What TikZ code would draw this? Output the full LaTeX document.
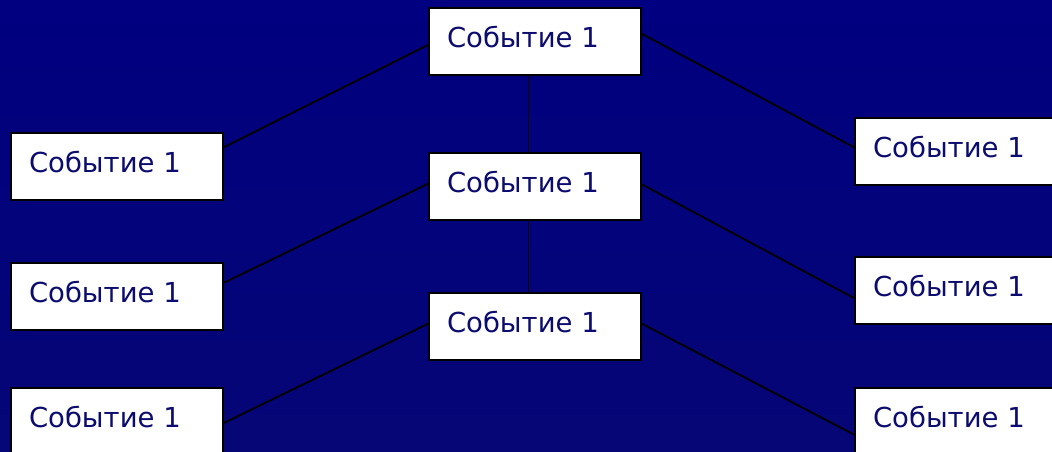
\documentclass[tikz,border=0pt]{standalone}
\usepackage{fontspec}
\setmainfont{DejaVu Sans}
\usetikzlibrary{calc}
\definecolor{bgtop}{RGB}{0,0,128}
\definecolor{bgbot}{RGB}{6,6,118}
\definecolor{txt}{RGB}{12,12,110}
\tikzset{
  evbox/.style={rectangle, draw=black, line width=2pt, fill=white,
    minimum width=212pt, minimum height=67pt, inner xsep=18pt, inner ysep=0pt,
    text depth=10pt, anchor=north west, text=txt,
    font=\fontsize{27.5pt}{30pt}\selectfont},
  conn/.style={draw=black, line width=1.8pt}
}
\newcommand{\evtext}{\makebox[176pt][l]{Событие 1}}
\begin{document}
\begin{tikzpicture}[x=1pt,y=-1pt]
\useasboundingbox (0,0) rectangle (1052,452);
\clip (0,0) rectangle (1052,452);
\shade[top color=bgtop, bottom color=bgbot] (0,0) rectangle (1052,452);
% center column
\node[evbox] (T1) at (428,7) {\evtext};
\node[evbox] (T2) at (428,152) {\evtext};
\node[evbox] (T3) at (428,292) {\evtext};
% left column
\node[evbox] (L1) at (10,132) {\evtext};
\node[evbox] (L2) at (10,262) {\evtext};
\node[evbox] (L3) at (10,387) {\evtext};
% right column
\node[evbox, minimum width=230pt] (R1) at (854,117) {\makebox[194pt][l]{Событие 1}};
\node[evbox, minimum width=230pt] (R2) at (854,256) {\makebox[194pt][l]{Событие 1}};
\node[evbox, minimum width=230pt] (R3) at (854,387) {\makebox[194pt][l]{Событие 1}};
% connectors
\draw[conn] ($(T1.south west)!0.47!(T1.south east)$) -- ($(T2.north west)!0.47!(T2.north east)$);
\draw[conn] ($(T2.south west)!0.47!(T2.south east)$) -- ($(T3.north west)!0.47!(T3.north east)$);
\draw[conn] ($(T1.north west)!0.55!(T1.south west)$) -- ($(L1.north east)!0.22!(L1.south east)$);
\draw[conn] ($(T1.north east)!0.39!(T1.south east)$) -- ($(R1.north west)!0.44!(R1.south west)$);
\draw[conn] ($(T2.north west)!0.46!(T2.south west)$) -- ($(L2.north east)!0.30!(L2.south east)$);
\draw[conn] ($(T2.north east)!0.47!(T2.south east)$) -- ($(R2.north west)!0.61!(R2.south west)$);
\draw[conn] ($(T3.north west)!0.46!(T3.south west)$) -- ($(L3.north east)!0.52!(L3.south east)$);
\draw[conn] ($(T3.north east)!0.46!(T3.south east)$) -- ($(R3.north west)!0.69!(R3.south west)$);
\end{tikzpicture}
\end{document}
